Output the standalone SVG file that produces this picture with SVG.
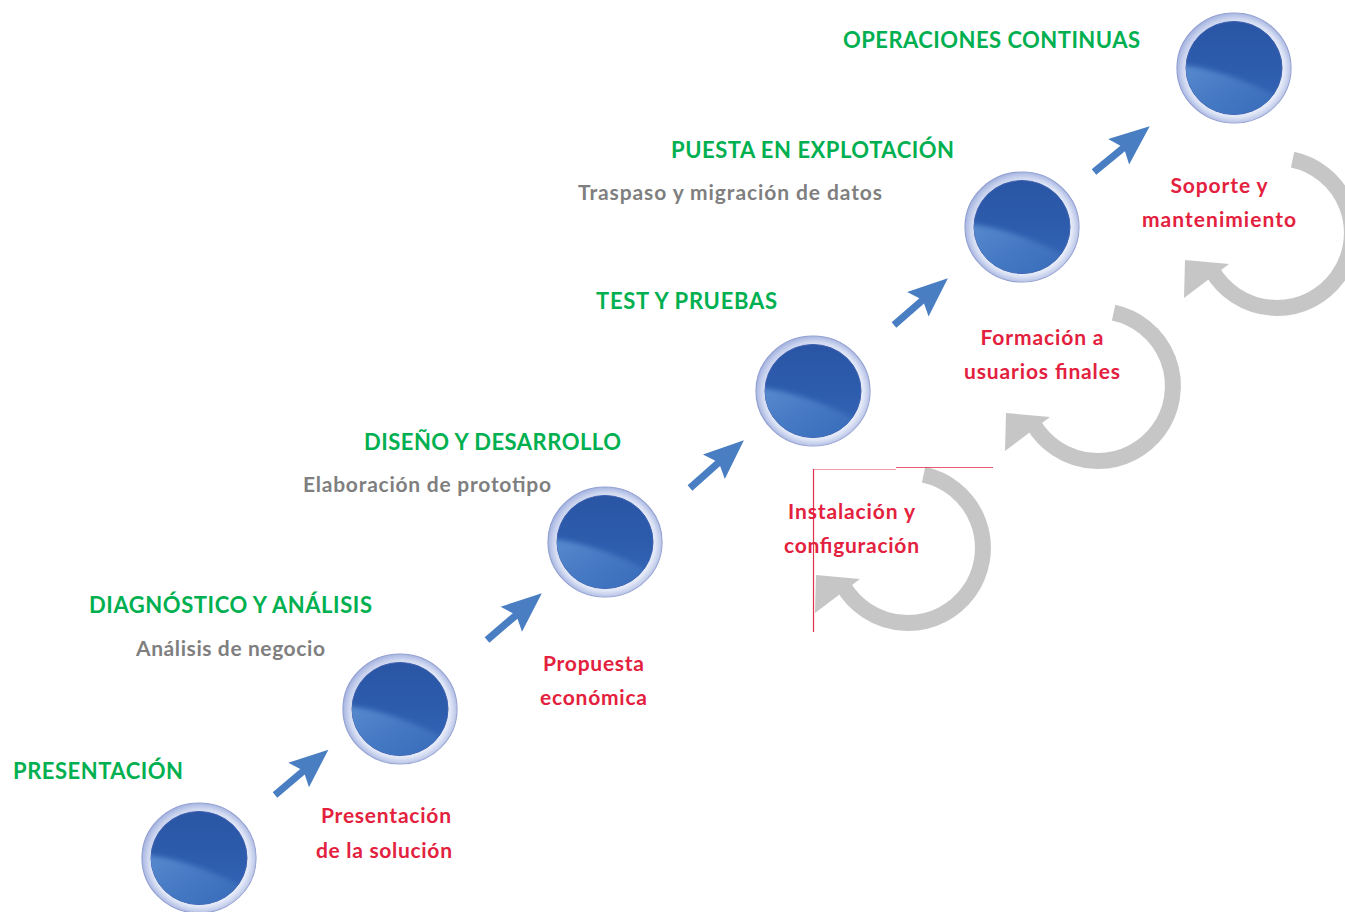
<svg xmlns="http://www.w3.org/2000/svg" xmlns:xlink="http://www.w3.org/1999/xlink" width="1345" height="912" viewBox="0 0 1345 912">
<style>
.g{font-family:Lato,"Liberation Sans",sans-serif;font-weight:700;font-size:22px;fill:#00b050}
.gr{font-family:Lato,"Liberation Sans",sans-serif;font-weight:700;font-size:21px;fill:#7f7f7f}
.r{font-family:Lato,"Liberation Sans",sans-serif;font-weight:700;font-size:21px;fill:#e3213e;text-anchor:middle}
.cyc{fill:none;stroke:#c6c6c6;stroke-width:16}
.cyh{fill:#c6c6c6}
.ba{fill:#4a7ec2}
.rl{stroke:#e0304a;stroke-width:1.2;fill:none}
</style>
<defs>
<radialGradient id="ring" cx="0.5" cy="0.5" r="0.5">
<stop offset="0.78" stop-color="#ffffff"/>
<stop offset="0.9" stop-color="#dbe2f5"/>
<stop offset="1" stop-color="#a6b4e0"/>
</radialGradient>
<linearGradient id="ringShade" x1="0" y1="0" x2="1" y2="1">
<stop offset="0" stop-color="#8c9dd4" stop-opacity="0.5"/>
<stop offset="0.5" stop-color="#c5d0ee" stop-opacity="0.15"/>
<stop offset="1" stop-color="#ffffff" stop-opacity="0.4"/>
</linearGradient>
<linearGradient id="core" x1="0" y1="0" x2="0" y2="1">
<stop offset="0" stop-color="#2a55a5"/>
<stop offset="0.55" stop-color="#2e5dae"/>
<stop offset="1" stop-color="#3568b8"/>
</linearGradient>
<linearGradient id="hl" x1="0" y1="0" x2="1" y2="1">
<stop offset="0" stop-color="#6296d6" stop-opacity="0.85"/>
<stop offset="0.6" stop-color="#4a80c8" stop-opacity="0.55"/>
<stop offset="1" stop-color="#3a70bd" stop-opacity="0.2"/>
</linearGradient>
<filter id="soft" x="-20%" y="-20%" width="140%" height="140%"><feGaussianBlur stdDeviation="2.5"/></filter>
<clipPath id="coreClip"><ellipse cx="0" cy="0" rx="48" ry="46.5"/></clipPath>
<g id="sphere">
<ellipse rx="57" ry="55" fill="url(#ring)" stroke="#8f9dd0" stroke-width="1.2"/>
<ellipse rx="57" ry="55" fill="url(#ringShade)"/>
<ellipse rx="48" ry="46.5" fill="url(#core)" stroke="#3d5fae" stroke-width="1"/>
<g clip-path="url(#coreClip)">
<path filter="url(#soft)" d="M-56,-3 C-25,-1 15,12 56,36 L56,56 L-56,56 Z" fill="url(#hl)"/>
</g>
</g>
<path id="barrow" class="ba" d="M0,-3.5 L36,-3.5 L31,-16 L70,0 L31,16 L36,3.5 L0,3.5 Z"/>
</defs>
<rect width="1345" height="912" fill="#ffffff"/>

<g id="stage-presentacion">
<use href="#sphere" transform="translate(199,858)"/>
<text class="g" x="13" y="779" textLength="170">PRESENTACIÓN</text>
</g>
<g id="stage-diagnostico">
<use href="#sphere" transform="translate(400,709)"/>
<text class="g" x="89" y="613" textLength="283">DIAGNÓSTICO Y ANÁLISIS</text>
<text class="gr" x="136" y="656" textLength="189">Análisis de negocio</text>
</g>
<g id="stage-diseno">
<use href="#sphere" transform="translate(605,542)"/>
<text class="g" x="364" y="450" textLength="257">DISEÑO Y DESARROLLO</text>
<text class="gr" x="303" y="492" textLength="248">Elaboración de prototipo</text>
</g>
<g id="stage-test">
<use href="#sphere" transform="translate(813,391)"/>
<text class="g" x="596" y="309" textLength="181">TEST Y PRUEBAS</text>
</g>
<g id="stage-puesta">
<use href="#sphere" transform="translate(1022,227)"/>
<text class="g" x="671" y="158" textLength="283">PUESTA EN EXPLOTACIÓN</text>
<text class="gr" x="578" y="200" textLength="304">Traspaso y migración de datos</text>
</g>
<g id="stage-operaciones">
<use href="#sphere" transform="translate(1234,68)"/>
<text class="g" x="843" y="48" textLength="297">OPERACIONES CONTINUAS</text>
</g>

<g id="connectors">
<use href="#barrow" transform="translate(275,795) rotate(-40.3)"/>
<use href="#barrow" transform="translate(487,640) rotate(-40.5) scale(1.03)"/>
<use href="#barrow" transform="translate(690,488) rotate(-41.6) scale(1.03)"/>
<use href="#barrow" transform="translate(894,325) rotate(-41) scale(1.02)"/>
<use href="#barrow" transform="translate(1094,172) rotate(-39.4) scale(1.03)"/>

<path class="cyc" d="M923.6,474.6 A75,75 0 1 1 843,585.5"/>
<polygon class="cyh" points="816,575 860,579 815,613"/>
<path class="cyc" d="M1113.6,312.6 A75,75 0 1 1 1033,423.5"/>
<polygon class="cyh" points="1006,413 1050,417 1005,451"/>
<path class="cyc" d="M1292.6,159.6 A75,75 0 1 1 1212,270.5"/>
<polygon class="cyh" points="1185,260 1229,264 1184,298"/>
</g>

<g id="label-presentacion-solucion">
<text class="r" x="386" y="823" textLength="130">Presentación</text>
<text class="r" x="384" y="858" textLength="136">de la solución</text>
</g>
<g id="label-propuesta">
<text class="r" x="593.5" y="671" textLength="101">Propuesta</text>
<text class="r" x="593.5" y="705" textLength="107">económica</text>
</g>
<g id="label-instalacion">
<line class="rl" x1="813" y1="469.5" x2="896" y2="469.5" stroke-opacity="0.45"/>
<line class="rl" x1="896" y1="467.5" x2="993" y2="467.5" stroke-opacity="0.8"/>
<line class="rl" x1="813.5" y1="469" x2="813.5" y2="632"/>
<text class="r" x="851.5" y="519" textLength="127">Instalación y</text>
<text class="r" x="851.5" y="553" textLength="135">configuración</text>
</g>
<g id="label-formacion">
<text class="r" x="1042" y="345" textLength="123">Formación a</text>
<text class="r" x="1042" y="379" textLength="156">usuarios finales</text>
</g>
<g id="label-soporte">
<text class="r" x="1219" y="193" textLength="97">Soporte y</text>
<text class="r" x="1219" y="227" textLength="154">mantenimiento</text>
</g>
</svg>
